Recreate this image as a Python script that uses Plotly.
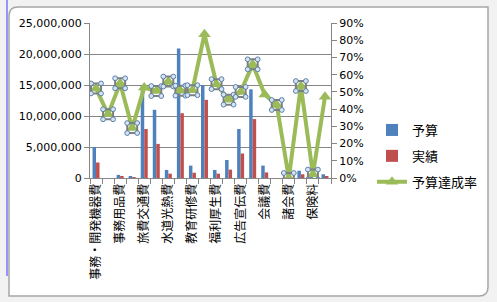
import plotly.graph_objects as go

# ---------------- data ----------------
categories = ["事務・開発機器費", "通信費", "事務用品費", "消耗品費", "旅費交通費", "車両費",
              "水道光熱費", "地代家賃", "教育研修費", "外注費", "福利厚生費", "修繕費",
              "広告宣伝費", "接待交際費", "会議費", "新聞図書費", "諸会費", "支払手数料",
              "保険料", "雑費"]
budget = [5.0e6, 0, 0.5e6, 0.2e6, 15.0e6, 11.0e6, 1.3e6, 20.9e6, 2.0e6, 15.0e6,
          1.3e6, 2.9e6, 7.9e6, 14.3e6, 2.0e6, 0, 0, 1.17e6, 0.15e6, 0.6e6]
actual = [2.5e6, 0, 0.2e6, 0.03e6, 7.9e6, 5.5e6, 0.7e6, 10.45e6, 0.85e6, 12.6e6,
          0.7e6, 1.35e6, 3.95e6, 9.5e6, 0.9e6, 0, 0, 0.6e6, 0, 0.27e6]
rate = [0.52, 0.37, 0.55, 0.29, 0.525, 0.505, 0.56, 0.507, 0.51, 0.835,
        0.545, 0.455, 0.50, 0.66, 0.485, 0.424, 0.0, 0.534, 0.02, 0.472]
selected_points = [0, 1, 2, 3, 5, 6, 7, 8, 10, 11, 12, 13, 15, 16, 17, 18]
series_names = ["予算", "実績", "予算達成率"]
# label shown for every other category (Excel skips the rest)
tick_text = [c if i % 2 == 0 else "" for i, c in enumerate(categories)]

BLUE, RED, GREEN = "#4F81BD", "#C0504D", "#9BBB59"
GRID = "#868686"

# plot-area geometry in pixels
L, R, T, B = 90, 331, 23, 178
W, H = 497, 302


def pxx(x):
    return (x - L) / (R - L)


def pyy(y):
    return (B - y) / (B - T)


fig = go.Figure()
fig.add_trace(go.Bar(x=categories, y=budget, name=series_names[0], marker_color=BLUE,
                     legendgroup="a", marker_line_width=0))
fig.add_trace(go.Bar(x=categories, y=actual, name=series_names[1], marker_color=RED,
                     legendgroup="b", marker_line_width=0))
fig.add_trace(go.Scatter(x=categories, y=rate, name=series_names[2], yaxis="y2",
                         mode="lines+markers", legendgroup="c",
                         line=dict(color=GREEN, width=4),
                         marker=dict(symbol="triangle-up", size=11, color=GREEN)))

shapes = []
# chart frame (Excel chart area)
shapes.append(dict(type="rect", xref="paper", yref="paper", layer="below",
                   x0=pxx(0), x1=pxx(W), y0=pyy(H), y1=pyy(0),
                   fillcolor="#f2f2f2", line=dict(width=0)))
x0, x1, y0, y1, r = 9, 488, 7, 296, 9
path = (f"M {pxx(x0 + r)},{pyy(y0)} L {pxx(x1)},{pyy(y0)} L {pxx(x1)},{pyy(y1 - r)} "
        f"Q {pxx(x1)},{pyy(y1)} {pxx(x1 - r)},{pyy(y1)} L {pxx(x0)},{pyy(y1)} "
        f"L {pxx(x0)},{pyy(y0 + r)} Q {pxx(x0)},{pyy(y0)} {pxx(x0 + r)},{pyy(y0)} Z")
shapes.append(dict(type="path", xref="paper", yref="paper", layer="below", path=path,
                   fillcolor="white", line=dict(color="#a6a6a6", width=1.5)))
shapes.append(dict(type="line", xref="paper", yref="paper", layer="below",
                   x0=pxx(7), x1=pxx(7), y0=pyy(0), y1=pyy(276),
                   line=dict(color="#3b3bff", width=1)))

# selection handles around selected points
for i in selected_points:
    shapes.append(dict(type="rect", xref="x", yref="y2", xsizemode="pixel", ysizemode="pixel",
                       xanchor=i, yanchor=rate[i], x0=-5, x1=5, y0=-5, y1=5,
                       line=dict(color="#7f7f7f", width=2)))
    for cx in (-5, 5):
        for cy in (-5, 5):
            shapes.append(dict(type="circle", xref="x", yref="y2", xsizemode="pixel",
                               ysizemode="pixel", xanchor=i, yanchor=rate[i],
                               x0=cx - 2.4, x1=cx + 2.4, y0=cy - 2.4, y1=cy + 2.4,
                               fillcolor="#d6e4f2", line=dict(color="#5a7fa8", width=1)))

fig.update_layout(
    width=W, height=H,
    margin=dict(l=L, r=W - R, t=T, b=H - B, pad=0),
    paper_bgcolor="white", plot_bgcolor="white",
    barmode="group", bargap=0.42, bargroupgap=0,
    font=dict(family="DejaVu Sans", size=11, color="black"),
    xaxis=dict(type="category", tickmode="array", tickvals=categories, ticktext=tick_text,
               tickson="boundaries", ticks="outside", ticklen=5, tickcolor=GRID,
               showline=True, linecolor=GRID, linewidth=1, showgrid=False,
               tickangle=-90, tickfont=dict(family="Noto Sans CJK JP", size=12),
               range=[-0.5, len(categories) - 0.5]),
    yaxis=dict(range=[0, 25e6], dtick=5e6, tickformat=",d", ticks="outside", ticklen=5,
               tickcolor=GRID, showline=True, linecolor=GRID, showgrid=True,
               gridcolor=GRID, gridwidth=1, zeroline=False),
    yaxis2=dict(range=[0, 0.9], dtick=0.1, tickformat=".0%", overlaying="y", side="right",
                ticks="outside", ticklen=5, tickcolor=GRID, showline=True, linecolor=GRID,
                showgrid=False, zeroline=False),
    legend=dict(x=pxx(372), y=pyy(115), xanchor="left", yanchor="top",
                font=dict(family="Noto Sans CJK JP", size=13), itemwidth=30,
                tracegroupgap=6, bgcolor="rgba(0,0,0,0)"),
    shapes=shapes,
    showlegend=True,
)

fig.write_html("out.html")
